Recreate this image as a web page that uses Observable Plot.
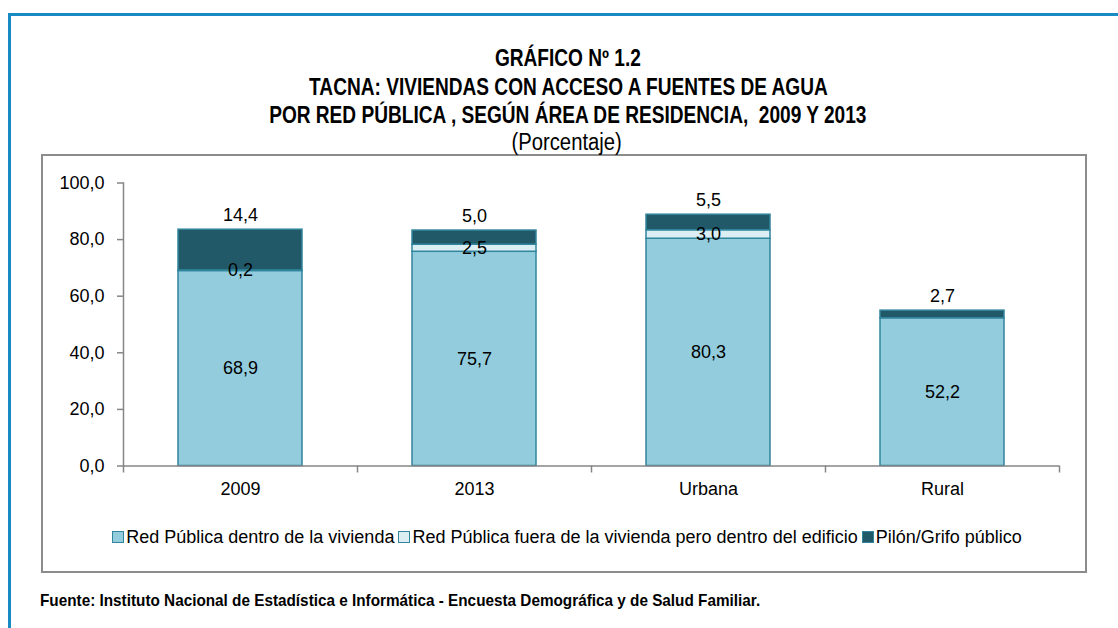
<!DOCTYPE html>
<html>
<head>
<meta charset="utf-8">
<script src="https://cdn.jsdelivr.net/npm/d3@7"></script>
<script src="https://cdn.jsdelivr.net/npm/@observablehq/plot@0.6"></script>
<style>
  html, body { margin: 0; padding: 0; background: #fff; }
  body { width: 1118px; height: 628px; position: relative; overflow: hidden; font-family: "Liberation Sans", Arial, sans-serif; }
  #outer { position: absolute; left: 8px; top: 13px; width: 1200px; height: 700px; border-top: 3px solid #1a8ac4; border-left: 3px solid #1a8ac4; box-sizing: border-box; }
  #inner { position: absolute; left: 41px; top: 154px; width: 1046px; height: 419px; border: 2px solid #8c8c8c; box-sizing: border-box; }
  #title { position: absolute; left: 0; width: 1136px; top: 44px; text-align: center; font-weight: bold; font-size: 23px; line-height: 28.5px; color: #000; }
  #title span, #subtitle span { display: inline-block; white-space: pre; transform-origin: 50% 50%; }
  #title span { transform: scaleX(0.83); }
  #subtitle { position: absolute; left: 0; width: 1134px; top: 129px; text-align: center; font-size: 23px; line-height: 26px; color: #000; }
  #subtitle span { transform: scaleX(0.88); }
  #chart { position: absolute; left: 0; top: 0; }
  #legend { position: absolute; left: 0; width: 1138px; top: 527px; display: flex; justify-content: center; font-size: 18px; line-height: 20px; color: #000; white-space: nowrap; }
  .item { display: flex; align-items: center; margin-right: 4px; }
  .sw { width: 10px; height: 10px; border: 1px solid #31859C; margin-right: 2px; }
  #caption { position: absolute; left: 40px; top: 591px; font-weight: bold; font-size: 17px; line-height: 20px; color: #000; white-space: nowrap; transform: scaleX(0.9); transform-origin: 0 50%; }
</style>
</head>
<body>
<div id="outer"></div>
<div id="inner"></div>
<div id="title"></div>
<div id="subtitle"></div>
<div id="chart"></div>
<div id="legend"></div>
<div id="caption"></div>
<script>
// ---- data ----
const categories = ["2009", "2013", "Urbana", "Rural"];
const seriesNames = [
  "Red Pública dentro de la vivienda",
  "Red Pública fuera de la vivienda pero dentro del edificio",
  "Pilón/Grifo público"
];
const dentro = [68.9, 75.7, 80.3, 52.2];
const fuera = [0.2, 2.5, 3.0, 0];
const pilon = [14.4, 5.0, 5.5, 2.7];
const yTicks = [0, 20, 40, 60, 80, 100];
const seriesColors = ["#93CDDD", "#DBEEF4", "#215968"];
const titleLines = [
  "GRÁFICO Nº 1.2",
  "TACNA: VIVIENDAS CON ACCESO A FUENTES DE AGUA",
  "POR RED PÚBLICA , SEGÚN ÁREA DE RESIDENCIA,  2009 Y 2013"
];
const subtitleText = "(Porcentaje)";
const captionText = "Fuente: Instituto Nacional de Estadística e Informática - Encuesta Demográfica y de Salud Familiar.";

// ---- build table ----
const seriesValues = [dentro, fuera, pilon];
const rows = [];
categories.forEach((c, i) => {
  seriesNames.forEach((s, k) => rows.push({cat: c, series: s, value: seriesValues[k][i]}));
});
const fmt = v => v.toFixed(1).replace(".", ",");

// ---- texts ----
document.getElementById("title").innerHTML = titleLines.map(t => `<div><span>${t}</span></div>`).join("");
document.getElementById("subtitle").innerHTML = `<span>${subtitleText}</span>`;
document.getElementById("caption").textContent = captionText;
document.getElementById("legend").innerHTML = seriesNames.map((s, k) =>
  `<div class="item"><div class="sw" style="background:${seriesColors[k]}"></div><span>${s}</span></div>`).join("");

// ---- chart ----
const axisGray = "#868686";
const chart = Plot.plot({
  width: 1118,
  height: 628,
  marginLeft: 123,
  marginRight: 59,
  marginTop: 182.5,
  marginBottom: 162.5,
  style: {background: "transparent", fontFamily: "'Liberation Sans', Arial, sans-serif", fontSize: "18px", color: "#000"},
  x: {domain: categories, paddingInner: 0.47, paddingOuter: 0.235, label: null},
  y: {domain: [0, 100], label: null},
  color: {domain: seriesNames, range: seriesColors},
  marks: [
    Plot.frame({anchor: "left", stroke: axisGray, strokeWidth: 1.5}),
    Plot.axisY({ticks: yTicks, tickFormat: fmt, tickSize: 6, tickPadding: 13, stroke: axisGray, strokeWidth: 1.5, fontSize: 18, label: null}),
    Plot.axisX({tickSize: 0, tickPadding: 16, fontSize: 18, label: null}),
    Plot.barY(rows, {x: "cat", y: "value", fill: "series", stroke: "#31859C", strokeWidth: 1.5}),
    Plot.ruleY([0], {stroke: axisGray, strokeWidth: 1.5}),
    Plot.ruleX([categories[0]], {x: d => d, y1: 0, y2: 0, insetBottom: -7, dx: -117, stroke: axisGray, strokeWidth: 1.5}),
    Plot.ruleX(categories, {x: d => d, y1: 0, y2: 0, insetBottom: -7, dx: 117, stroke: axisGray, strokeWidth: 1.5}),
    Plot.text(rows, Plot.stackY({x: "cat", y: "value", text: d => (d.series !== seriesNames[2] && d.value > 0) ? fmt(d.value) : "", fontSize: 18, fill: "#000"})),
    Plot.text(rows, Plot.stackY2({x: "cat", y: "value", text: d => d.series === seriesNames[2] ? fmt(d.value) : "", dy: -14, fontSize: 18, fill: "#000"}))
  ]
});
document.getElementById("chart").appendChild(chart);
</script>
</body>
</html>
